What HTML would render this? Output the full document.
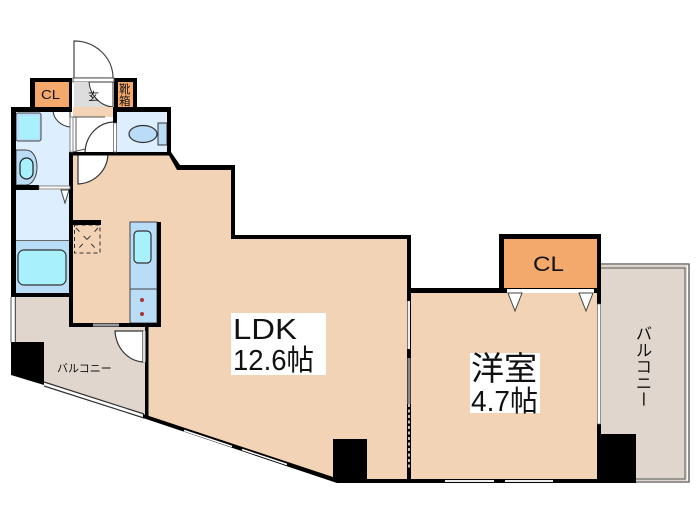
<!DOCTYPE html>
<html><head><meta charset="utf-8"><style>
html,body{margin:0;padding:0;background:#fff}
svg{display:block}
text{font-family:"Liberation Sans","Noto Sans CJK JP",sans-serif;fill:#111}
</style></head><body>
<svg width="700" height="525" viewBox="0 0 700 525" xmlns="http://www.w3.org/2000/svg">
<!-- balconies -->
<polygon points="14,297 146,297 146,414 44,382 14,372" fill="#e0d6cd"/>
<rect x="601" y="265" width="86" height="216" fill="#e0d6cd"/>
<path d="M601 264H689V482H636" fill="none" stroke="#555" stroke-width="1.3"/>
<path d="M601 268H685V479H636" fill="none" stroke="#555" stroke-width="1"/>
<path d="M44 386L144 418" stroke="#333" stroke-width="1.2"/>
<path d="M44 382L144 414" stroke="#333" stroke-width="1.2"/>
<path d="M15.500 297V342" stroke="#555" stroke-width="1"/>
<path d="M11 297V342" stroke="#555" stroke-width="1"/>
<!-- main rooms -->
<polygon points="73,155 169,155 179,168 233,168 233,237 407,237 407,479 337,479 146,416 146,325 73,325" fill="#f3d3b6"/>
<rect x="411" y="290" width="188" height="190" fill="#f3d3b6"/>
<!-- CL -->
<rect x="30" y="78" width="42" height="34" fill="#000"/>
<rect x="35" y="82" width="34" height="25" fill="#f3a96b"/>
<rect x="114" y="78" width="23" height="34" fill="#000"/>
<rect x="118" y="82" width="15" height="25" fill="#f3a96b"/>
<rect x="499" y="234" width="102" height="59" fill="#000"/>
<rect x="504" y="239" width="93" height="49" fill="#f3a96b"/>
<rect x="507" y="289" width="87" height="4" fill="#fff"/>
<polygon points="508,293 522,293 515,311" fill="#fff" stroke="#444"/>
<polygon points="579,293 593,293 586,311" fill="#fff" stroke="#444"/>
<!-- entry -->
<path d="M74 41V78H113C113 58 96 41 74 41Z" fill="#fff" stroke="#444" stroke-width="1.2"/>
<rect x="73" y="78" width="41" height="4" fill="#fff" stroke="#555" stroke-width="1"/>
<rect x="74" y="82" width="39" height="25" fill="#ddd"/>
<path d="M89 82C90 95 100 106 113 107V82Z" fill="#fff" stroke="#333"/>
<rect x="73" y="107" width="40" height="10" fill="#f3d3b6"/>
<rect x="73" y="117" width="40" height="36" fill="#fff"/>
<path d="M76 117V152M73 117H105" stroke="#555" fill="none"/>
<path d="M85 152C86 135 98 123 113 122" fill="none" stroke="#333" stroke-width="1.2"/>
<path d="M73 152L85 149" stroke="#555"/>
<!-- toilet -->
<rect x="117" y="112" width="50" height="40" fill="#ddeeff"/>
<ellipse cx="143" cy="134" rx="14" ry="8.500" fill="#b9dcf7" stroke="#333" stroke-width="1.2"/>
<rect x="158" y="123" width="9" height="22" fill="#b9dcf7" stroke="#333"/>
<!-- bath -->
<rect x="16" y="112" width="54" height="76" fill="#ddeeff"/>
<rect x="16" y="190" width="54" height="50" fill="#ddeeff"/>
<rect x="16" y="241" width="54" height="52" fill="#b9dcf7"/>
<path d="M16 240.500H70" stroke="#666"/>
<rect x="16" y="113" width="25" height="28" rx="2" fill="#b9dcf7" stroke="#444"/>
<rect x="19" y="116" width="20" height="23" fill="#a8f0fb"/>
<path d="M16 150H26C33 150 37 158 37 167C37 177 32 185 26 185H16Z" fill="#b9dcf7" stroke="#444"/>
<rect x="20" y="158" width="13" height="21" rx="6.500" fill="#a8f0fb" stroke="#222" stroke-width="1.2"/>
<rect x="18" y="250" width="48" height="35" rx="6" fill="#a8f0fb" stroke="#333" stroke-width="1.2"/>
<path d="M53 110C53 119 61 126 70 127V110Z" fill="#fff" stroke="#333"/>
<polygon points="61,190 69,190 65,203" fill="#fff" stroke="#444"/>
<!-- room door -->
<path d="M78 153H108C108 170 95 183 78 184Z" fill="#fff" stroke="#333" stroke-width="1.2"/>
<!-- closet dashed -->
<rect x="74.500" y="225" width="25.500" height="28" fill="none" stroke="#333" stroke-dasharray="4 3"/>
<path d="M76 228L98 251M98 228L76 251" stroke="#333" stroke-dasharray="5 6"/>
<rect x="73" y="220" width="28" height="5" fill="#000"/>
<!-- kitchen -->
<rect x="130" y="222" width="27" height="101" fill="#b9dcf7" stroke="#444"/>
<path d="M130 289H157" stroke="#444"/>
<rect x="134" y="231" width="17" height="32" rx="4" fill="#a8f0fb" stroke="#333" stroke-width="1.2"/>
<circle cx="142" cy="300" r="2" fill="#a33"/>
<circle cx="142" cy="314" r="2" fill="#a33"/>
<rect x="157" y="222" width="4" height="105" fill="#000"/>
<!-- black walls -->
<g fill="#000">
<rect x="11" y="107" width="61" height="5"/>
<rect x="11" y="107" width="5" height="190"/>
<rect x="11" y="185" width="28" height="5"/>
<rect x="11" y="293" width="62" height="4"/>
<rect x="69" y="152" width="4" height="175"/>
<rect x="69" y="323" width="92" height="4"/>
<rect x="114" y="107" width="57" height="5"/>
<rect x="167" y="107" width="4" height="48"/>
<rect x="113" y="107" width="4" height="16"/>
<rect x="69" y="152" width="102" height="3.500"/>
<polygon points="167,152 171,152 180,165 233,165 233,170 177,170"/>
<rect x="231" y="165" width="4" height="74"/>
<rect x="231" y="235" width="180" height="4"/>
<rect x="145" y="327" width="3.500" height="90"/>
<rect x="407" y="237" width="4" height="246"/>
<rect x="411" y="288" width="96" height="5"/>
<rect x="597" y="290" width="4" height="14"/>
<rect x="597" y="424" width="4" height="20"/>
<rect x="337" y="479" width="299" height="4"/>
<rect x="333" y="439" width="34" height="41"/>
<polygon points="597,434 636,434 636,483 597,483"/>
<polygon points="11,342 44,342 44,385 11,375"/>
<polygon points="143,414 333,477 337,479 337,483 143,418"/>
</g>
<!-- windows & lines -->
<path d="M184 430.500L232 446.500M242 449.500L287 464.500" stroke="#fff" stroke-width="1.500"/>
<rect x="113.500" y="123" width="3" height="29" fill="#fff" stroke="#666" stroke-width=".8"/>
<rect x="70" y="117" width="3" height="35" fill="#fff" stroke="#666" stroke-width=".8"/>
<rect x="39" y="186" width="31" height="3" fill="#fff" stroke="#666" stroke-width=".8"/>
<rect x="93" y="323.500" width="26" height="3" fill="#999"/>
<rect x="597.500" y="304" width="3" height="120" fill="#fff" stroke="#666" stroke-width=".7"/>
<rect x="445" y="480" width="49" height="2" fill="#eee"/>
<rect x="505" y="480" width="48" height="2" fill="#eee"/>
<rect x="407.500" y="301" width="2.500" height="48" fill="#eee"/>
<rect x="407.500" y="358" width="3" height="46" fill="#888"/>
<path d="M409 404V470" stroke="#fff" stroke-width="1.500" stroke-dasharray="3 2.500"/>
<!-- balcony door -->
<path d="M115 331H143V362C128 361 116 348 115 331Z" fill="#fff" stroke="#333" stroke-width="1.2"/>
<rect x="143" y="331" width="2.500" height="31" fill="#ddd"/>
<!-- label boxes -->
<rect x="231" y="313" width="95" height="62" fill="#fff"/>
<rect x="470" y="353" width="70" height="60" fill="#fff"/>
<!-- text -->
<text x="233" y="339" font-size="29" textLength="64" lengthAdjust="spacingAndGlyphs">LDK</text>
<text x="233" y="370" font-size="29" textLength="81" lengthAdjust="spacingAndGlyphs">12.6帖</text>
<text x="471" y="380" font-size="33" textLength="66" lengthAdjust="spacingAndGlyphs">洋室</text>
<text x="471" y="411" font-size="29" textLength="67" lengthAdjust="spacingAndGlyphs">4.7帖</text>
<text x="533" y="271" font-size="21" textLength="31" lengthAdjust="spacingAndGlyphs">CL</text>
<text x="41" y="99" font-size="13" textLength="19" lengthAdjust="spacingAndGlyphs">CL</text>
<text x="88" y="100" font-size="11">玄</text>
<text x="119" y="93" font-size="11.500">靴</text>
<text x="119" y="105" font-size="11.500">箱</text>
<text x="57" y="372" font-size="11">バルコニー</text>
<text x="642" y="325" font-size="16.500" style="writing-mode:vertical-rl" text-anchor="start">バルコニー</text>
</svg>
</body></html>
